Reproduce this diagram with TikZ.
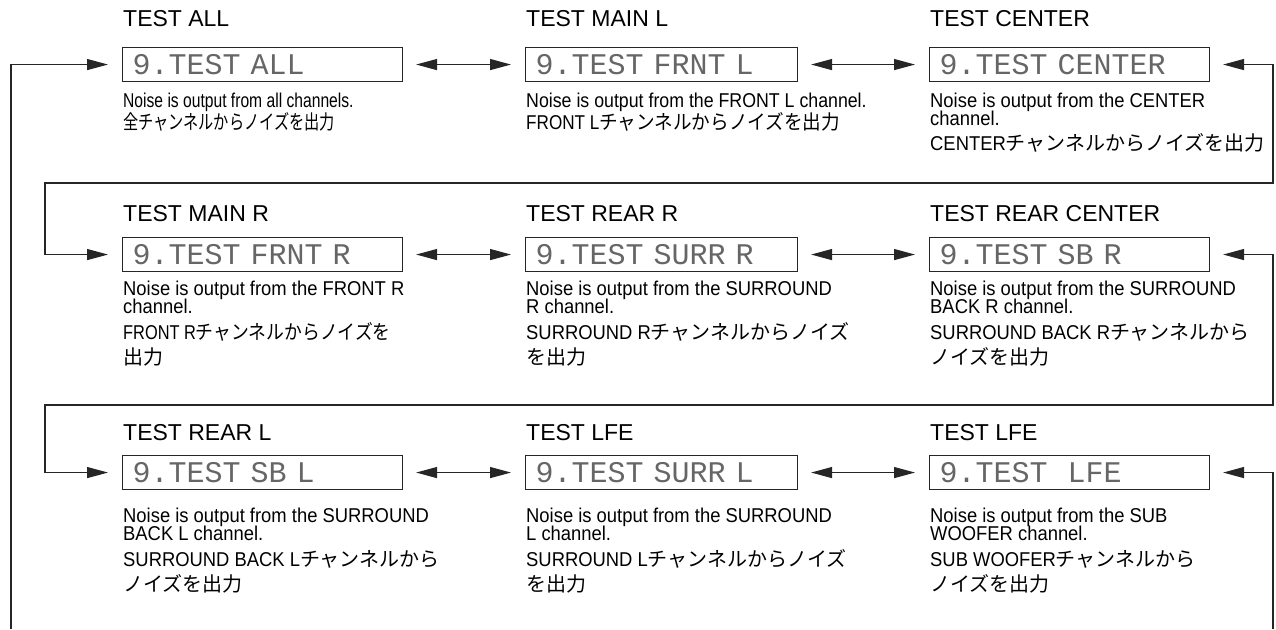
\documentclass[tikz,border=0pt]{standalone}
\usepackage{fontspec}
\usepackage{graphicx}
\setmainfont{Liberation Sans}
\newfontfamily\descfont[FakeStretch=0.92]{Liberation Sans}
\newfontfamily\jpfont{Noto Sans CJK JP}
\newfontfamily\lcdfont{Liberation Mono}
\usetikzlibrary{arrows.meta}
\newcommand\jp[1]{{\jpfont #1}}
\newcommand\sq[2]{\scalebox{#1}[1]{#2}}
\begin{document}
\begin{tikzpicture}[x=1pt,y=-1pt,
  >={Triangle[length=21pt,width=11pt]},
  ttl/.style={anchor=base west, inner sep=0pt, font=\fontsize{23}{23}\selectfont},
  dsc/.style={anchor=base west, inner sep=0pt, font=\descfont\fontsize{20}{21}\selectfont},
  lcd/.style={draw=black!85, line width=1.1pt, anchor=north west, minimum height=34pt,
    inner xsep=10pt, inner ysep=0pt, text height=20pt, text depth=0pt, align=left,
    text width=#1, text=black!60, font=\lcdfont\fontsize{30}{30}\selectfont},
  conn/.style={line width=1.3pt, draw=black!85},
]
\useasboundingbox (0,0) rectangle (1276,629);

% coordinates for connector routing
\coordinate (R) at (1273,0);
\coordinate (L) at (45,0);
\coordinate (T1) at (0,183);
\coordinate (T2) at (0,405);
\coordinate (BL) at (11,629);
\coordinate (BR) at (1273,629);

% ---------- Row 1 ----------
\node[ttl] (t11) at (123,26) {TEST ALL};
\node[ttl] (t12) at (526,26) {TEST MAIN L};
\node[ttl] (t13) at (930,26) {TEST CENTER};
\node[lcd=260pt] (b11) at (122,47) {9.TEST ALL};
\node[lcd=252pt] (b12) at (525,47) {9.TEST FRNT L};
\node[lcd=260pt] (b13) at (929,47) {9.TEST CENTER};
\node[dsc] (d11a) at (123,107) {\sq{0.85}{Noise is output from all channels.}};
\node[dsc] (d11b) at (123,129) {\sq{0.76}{\jp{全チャンネルからノイズを出力}}};
\node[dsc] (d12a) at (526,107) {\sq{0.965}{Noise is output from the FRONT L channel.}};
\node[dsc] (d12b) at (526,129) {\sq{0.93}{FRONT L\jp{チャンネルからノイズを出力}}};
\node[dsc] (d13a) at (930,107) {Noise is output from the CENTER};
\node[dsc] (d13b) at (930,125) {channel.};
\node[dsc] (d13c) at (930,150) {CENTER\jp{チャンネルからノイズを出力}};

% ---------- Row 2 ----------
\node[ttl] (t21) at (123,221) {TEST MAIN R};
\node[ttl] (t22) at (526,221) {TEST REAR R};
\node[ttl] (t23) at (930,221) {TEST REAR CENTER};
\node[lcd=260pt] (b21) at (122,237) {9.TEST FRNT R};
\node[lcd=252pt] (b22) at (525,237) {9.TEST SURR R};
\node[lcd=260pt] (b23) at (929,237) {9.TEST SB R};
\node[dsc] (d21a) at (123,295) {Noise is output from the FRONT R};
\node[dsc] (d21b) at (123,313) {channel.};
\node[dsc] (d21c) at (123,339) {\sq{0.89}{FRONT R\jp{チャンネルからノイズを}}};
\node[dsc] (d21d) at (123,364) {\jp{出力}};
\node[dsc] (d22a) at (526,295) {Noise is output from the SURROUND};
\node[dsc] (d22b) at (526,313) {R channel.};
\node[dsc] (d22c) at (526,339) {SURROUND R\jp{チャンネルからノイズ}};
\node[dsc] (d22d) at (526,364) {\jp{を出力}};
\node[dsc] (d23a) at (930,295) {Noise is output from the SURROUND};
\node[dsc] (d23b) at (930,313) {BACK R channel.};
\node[dsc] (d23c) at (930,339) {SURROUND BACK R\jp{チャンネルから}};
\node[dsc] (d23d) at (930,364) {\jp{ノイズを出力}};

% ---------- Row 3 ----------
\node[ttl] (t31) at (123,440) {TEST REAR L};
\node[ttl] (t32) at (526,440) {TEST LFE};
\node[ttl] (t33) at (930,440) {TEST LFE};
\node[lcd=260pt] (b31) at (122,455) {9.TEST SB L};
\node[lcd=252pt] (b32) at (525,455) {9.TEST SURR L};
\node[lcd=260pt] (b33) at (929,455) {9.TEST\ \ LFE};
\node[dsc] (d31a) at (123,522) {Noise is output from the SURROUND};
\node[dsc] (d31b) at (123,540) {BACK L channel.};
\node[dsc] (d31c) at (123,566) {SURROUND BACK L\jp{チャンネルから}};
\node[dsc] (d31d) at (123,591) {\jp{ノイズを出力}};
\node[dsc] (d32a) at (526,522) {Noise is output from the SURROUND};
\node[dsc] (d32b) at (526,540) {L channel.};
\node[dsc] (d32c) at (526,566) {SURROUND L\jp{チャンネルからノイズ}};
\node[dsc] (d32d) at (526,591) {\jp{を出力}};
\node[dsc] (d33a) at (930,522) {Noise is output from the SUB};
\node[dsc] (d33b) at (930,540) {WOOFER channel.};
\node[dsc] (d33c) at (930,566) {SUB WOOFER\jp{チャンネルから}};
\node[dsc] (d33d) at (930,591) {\jp{ノイズを出力}};

% ---------- connectors ----------
\foreach \r in {1,2,3}{
  \draw[conn,<->,shorten <=13pt,shorten >=14pt] (b\r1.east) -- (b\r2.west);
  \draw[conn,<->,shorten <=13pt,shorten >=14pt] (b\r2.east) -- (b\r3.west);
}
\draw[conn,<->,shorten <=13pt,shorten >=14pt]
  (b13.east) -- (b13.east -| R) -- (R |- T1) -- (L |- T1) -- (L |- b21.west) -- (b21.west);
\draw[conn,<->,shorten <=13pt,shorten >=14pt]
  (b23.east) -- (b23.east -| R) -- (R |- T2) -- (L |- T2) -- (L |- b31.west) -- (b31.west);
\draw[conn,->,shorten >=14pt] (BL) |- (b11.west);
\draw[conn,->,shorten >=13pt] (BR) |- (b33.east);
\end{tikzpicture}
\end{document}
